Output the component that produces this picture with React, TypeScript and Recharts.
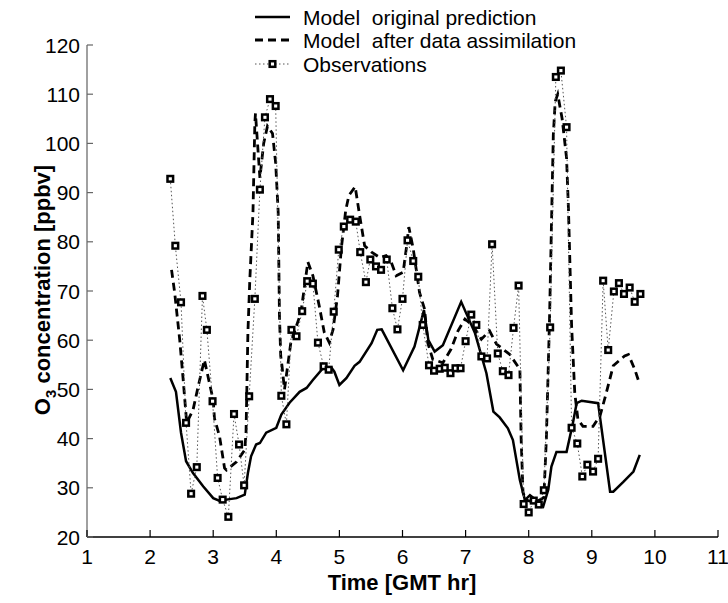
import React from 'react';
import { LineChart, Line, XAxis, YAxis, Customized } from 'recharts';

// Observations (time in GMT hr, O3 in ppbv)
const obsTime = [
  2.32, 2.40, 2.49, 2.57, 2.65, 2.74, 2.83, 2.90, 2.99, 3.07, 3.15, 3.24, 3.33, 3.41, 3.49, 3.57,
  3.66, 3.74, 3.82, 3.90, 3.99, 4.08, 4.16, 4.24, 4.32, 4.41, 4.49, 4.58, 4.66, 4.75, 4.83, 4.91,
  4.99, 5.07, 5.17, 5.26, 5.33, 5.42, 5.49, 5.58, 5.66, 5.75, 5.84, 5.92, 6.00, 6.08, 6.17, 6.25,
  6.32, 6.42, 6.50, 6.59, 6.67, 6.76, 6.84, 6.92, 7.00, 7.09, 7.17, 7.25, 7.34, 7.42, 7.51, 7.59,
  7.68, 7.76, 7.84, 7.92, 8.00, 8.08, 8.16, 8.24, 8.34, 8.43, 8.51, 8.60, 8.68, 8.77, 8.85, 8.93,
  9.02, 9.10, 9.18, 9.26, 9.35, 9.43, 9.51, 9.60, 9.68, 9.77,
];
const obsO3 = [
  92.8, 79.2, 67.7, 43.2, 28.8, 34.2, 69.0, 62.1, 47.6, 32.0, 27.6, 24.1, 45.0, 38.8, 30.5, 48.6,
  68.4, 90.6, 105.3, 109.0, 107.6, 48.7, 42.9, 62.1, 60.8, 65.9, 72.0, 71.5, 59.5, 54.7, 54.0, 65.8,
  78.4, 83.1, 84.5, 84.1, 77.9, 71.8, 76.4, 75.0, 74.3, 76.4, 66.5, 62.2, 68.4, 80.3, 76.1, 72.9,
  63.1, 54.9, 53.8, 54.2, 54.4, 53.3, 54.3, 54.3, 59.8, 65.2, 63.1, 56.7, 56.3, 79.5, 57.3, 53.7,
  52.9, 62.5, 71.1, 26.7, 25.0, 27.4, 26.6, 29.5, 62.6, 113.5, 114.8, 103.3, 42.2, 39.0, 32.3, 34.7,
  33.3, 35.9, 72.1, 58.0, 69.9, 71.6, 69.4, 70.7, 67.8, 69.4,
];

// Model original prediction
const origTime = [
  2.32, 2.41, 2.49, 2.57, 2.68, 2.84, 3.00, 3.13, 3.21, 3.37, 3.50, 3.55, 3.60, 3.68, 3.74, 3.84,
  4.00, 4.08, 4.21, 4.37, 4.48, 4.58, 4.74, 4.87, 4.92, 5.00, 5.11, 5.24, 5.32, 5.51, 5.60, 5.67,
  6.01, 6.19, 6.34, 6.41, 6.51, 6.64, 6.93, 7.15, 7.33, 7.44, 7.54, 7.67, 7.75, 7.86, 7.94, 8.02,
  8.12, 8.23, 8.31, 8.36, 8.44, 8.60, 8.70, 8.76, 8.84, 9.10, 9.29, 9.34, 9.50, 9.66, 9.76,
];
const origO3 = [
  52.3, 49.5, 41.2, 35.4, 33.0, 30.3, 27.9, 27.2, 27.6, 27.9, 28.6, 33.0, 36.4, 38.8, 39.1, 41.2,
  42.2, 44.9, 47.3, 49.5, 50.3, 51.9, 54.3, 54.5, 53.6, 50.9, 52.3, 54.8, 55.6, 59.4, 62.1, 62.2,
  53.9, 58.7, 66.1, 60.0, 57.7, 59.0, 67.8, 61.4, 53.3, 45.5, 44.3, 42.1, 39.7, 31.6, 27.5, 28.5,
  27.5, 26.2, 29.6, 34.3, 37.3, 37.3, 43.1, 47.2, 47.7, 47.2, 29.2, 29.2, 31.2, 33.3, 36.7,
];

// Model after data assimilation
const assimTime = [
  2.34, 2.39, 2.47, 2.52, 2.58, 2.68, 2.76, 2.86, 3.00, 3.02, 3.10, 3.18, 3.21, 3.37, 3.50, 3.52,
  3.55, 3.58, 3.63, 3.66, 3.67, 3.74, 3.80, 3.86, 3.94, 3.99, 4.03, 4.05, 4.07, 4.09, 4.13, 4.23,
  4.39, 4.50, 4.58, 4.68, 4.76, 4.84, 4.90, 4.97, 5.03, 5.10, 5.15, 5.25, 5.32, 5.40, 5.51, 5.64,
  5.74, 5.82, 5.90, 6.01, 6.06, 6.10, 6.17, 6.27, 6.35, 6.40, 6.48, 6.64, 6.77, 6.88, 6.99, 7.12,
  7.25, 7.38, 7.49, 7.70, 7.86, 7.88, 7.91, 7.96, 8.10, 8.24, 8.28, 8.33, 8.39, 8.42, 8.46, 8.53,
  8.60, 8.63, 8.68, 8.73, 8.78, 8.86, 9.02, 9.13, 9.23, 9.34, 9.52, 9.58, 9.68, 9.76,
];
const assimO3 = [
  74.3, 69.6, 60.0, 52.6, 43.2, 45.8, 50.5, 56.0, 47.8, 44.1, 40.5, 34.0, 33.6, 35.3, 37.7, 41.1,
  61.5, 72.2, 85.8, 104.1, 106.1, 93.0, 100.0, 103.5, 102.0, 96.0, 86.0, 65.0, 56.8, 54.8, 50.0, 59.5,
  65.6, 75.9, 73.1, 67.0, 61.6, 59.5, 62.2, 69.0, 78.6, 86.4, 89.4, 91.2, 85.4, 79.2, 77.9, 76.8,
  77.2, 75.9, 73.1, 73.8, 78.6, 83.0, 78.6, 69.7, 66.3, 59.5, 56.1, 55.4, 58.2, 61.9, 64.3, 62.9,
  60.2, 61.9, 59.2, 57.1, 54.1, 40.0, 29.0, 27.5, 27.0, 28.0, 40.0, 64.3, 101.7, 108.5, 110.0, 105.0,
  97.0, 86.7, 62.9, 49.3, 43.9, 42.5, 42.5, 44.6, 49.3, 54.8, 56.8, 57.1, 54.1, 51.0,
];

const xTicks = [1, 2, 3, 4, 5, 6, 7, 8, 9, 10, 11];
const yTicks = [20, 30, 40, 50, 60, 70, 80, 90, 100, 110, 120];
const legendLabels = ['Model  original prediction', 'Model  after data assimilation', 'Observations'];
const xTitle = 'Time [GMT hr]';
const yTitleMain = 'O';
const yTitleSub = '3';
const yTitleRest = ' concentration [ppbv]';

const obsData = obsTime.map((t, i) => ({ t, v: obsO3[i] }));
const origData = origTime.map((t, i) => ({ t, v: origO3[i] }));
const assimData = assimTime.map((t, i) => ({ t, v: assimO3[i] }));

const FONT = '"Liberation Sans", Arial, Helvetica, sans-serif';

const XTick = (props: any) => {
  const { x, y, payload } = props;
  return (
    <g>
      <line x1={x} y1={y} x2={x} y2={y - 7} stroke="#000" strokeWidth={1.2} />
      <text x={x} y={y + 27} textAnchor="middle" fontSize={21} fontFamily={FONT} fill="#000">
        {payload.value}
      </text>
    </g>
  );
};

const YTick = (props: any) => {
  const { x, y, payload } = props;
  return (
    <g>
      <line x1={x} y1={y} x2={x + 6} y2={y} stroke="#666" strokeWidth={1.2} />
      <text x={x - 7} y={y + 7.5} textAnchor="end" fontSize={21} fontFamily={FONT} fill="#000">
        {payload.value}
      </text>
    </g>
  );
};

const ObsDot = (props: any) => {
  const { cx, cy, index } = props;
  if (cx == null || cy == null) return <g key={`od-${index}`} />;
  return (
    <rect
      key={`od-${index}`}
      x={cx - 2.8}
      y={cy - 2.8}
      width={5.6}
      height={5.6}
      fill="#fff"
      stroke="#000"
      strokeWidth={2.5}
    />
  );
};

const Decorations = () => {
  const lx0 = 255;
  const lx1 = 290;
  const tx = 303;
  const rows = [17, 40, 64];
  return (
    <g fontFamily={FONT}>
      <line x1={lx0} y1={rows[0]} x2={lx1} y2={rows[0]} stroke="#000" strokeWidth={2.5} />
      <line x1={lx0} y1={rows[1]} x2={lx1} y2={rows[1]} stroke="#000" strokeWidth={2.8} strokeDasharray="8 5" />
      <line x1={lx0} y1={rows[2]} x2={lx1} y2={rows[2]} stroke="#555" strokeWidth={1} strokeDasharray="1.5 2.5" />
      <rect x={(lx0 + lx1) / 2 - 2.8} y={rows[2] - 2.8} width={5.6} height={5.6} fill="#fff" stroke="#000" strokeWidth={2.5} />
      {legendLabels.map((s, i) => (
        <text key={s} x={tx} y={rows[i] + 7.5} fontSize={21} fill="#000" style={{ whiteSpace: 'pre' }}>
          {s}
        </text>
      ))}
      <text x={402} y={590} textAnchor="middle" fontSize={22} fontWeight="bold" fill="#000">
        {xTitle}
      </text>
      <text
        x={50}
        y={290}
        transform="rotate(-90, 50, 290)"
        textAnchor="middle"
        fontSize={22}
        fontWeight="bold"
        fill="#000"
        style={{ whiteSpace: 'pre' }}
      >
        {yTitleMain}
        <tspan fontSize={15} dy={6}>{yTitleSub}</tspan>
        <tspan dy={-6}>{yTitleRest}</tspan>
      </text>
    </g>
  );
};

export default function App() {
  return (
    <div style={{ position: 'absolute', left: 0, top: 0, background: '#fff' }}>
      <LineChart
        width={728}
        height={603}
        margin={{ top: 45, right: 10, left: 0, bottom: 0 }}
      >
        <XAxis
          type="number"
          dataKey="t"
          domain={[1, 11]}
          ticks={xTicks}
          allowDataOverflow
          height={66}
          tickSize={0}
          tickMargin={0}
          tick={<XTick />}
          axisLine={{ stroke: '#000', strokeWidth: 1.5 }}
          tickLine={false}
          interval={0}
        />
        <YAxis
          type="number"
          dataKey="v"
          domain={[20, 120]}
          ticks={yTicks}
          allowDataOverflow
          width={87}
          tickSize={0}
          tickMargin={0}
          tick={<YTick />}
          axisLine={{ stroke: '#808080', strokeWidth: 1.5 }}
          tickLine={false}
          interval={0}
        />
        <Line
          data={origData}
          dataKey="v"
          type="linear"
          stroke="#000"
          strokeWidth={2.5}
          dot={false}
          activeDot={false}
          isAnimationActive={false}
        />
        <Line
          data={assimData}
          dataKey="v"
          type="linear"
          stroke="#000"
          strokeWidth={2.8}
          strokeDasharray="8 5"
          dot={false}
          activeDot={false}
          isAnimationActive={false}
        />
        <Line
          data={obsData}
          dataKey="v"
          type="linear"
          stroke="#555"
          strokeWidth={1}
          strokeDasharray="1.5 2.5"
          dot={ObsDot}
          activeDot={false}
          isAnimationActive={false}
        />
        <Customized component={Decorations} />
      </LineChart>
    </div>
  );
}
